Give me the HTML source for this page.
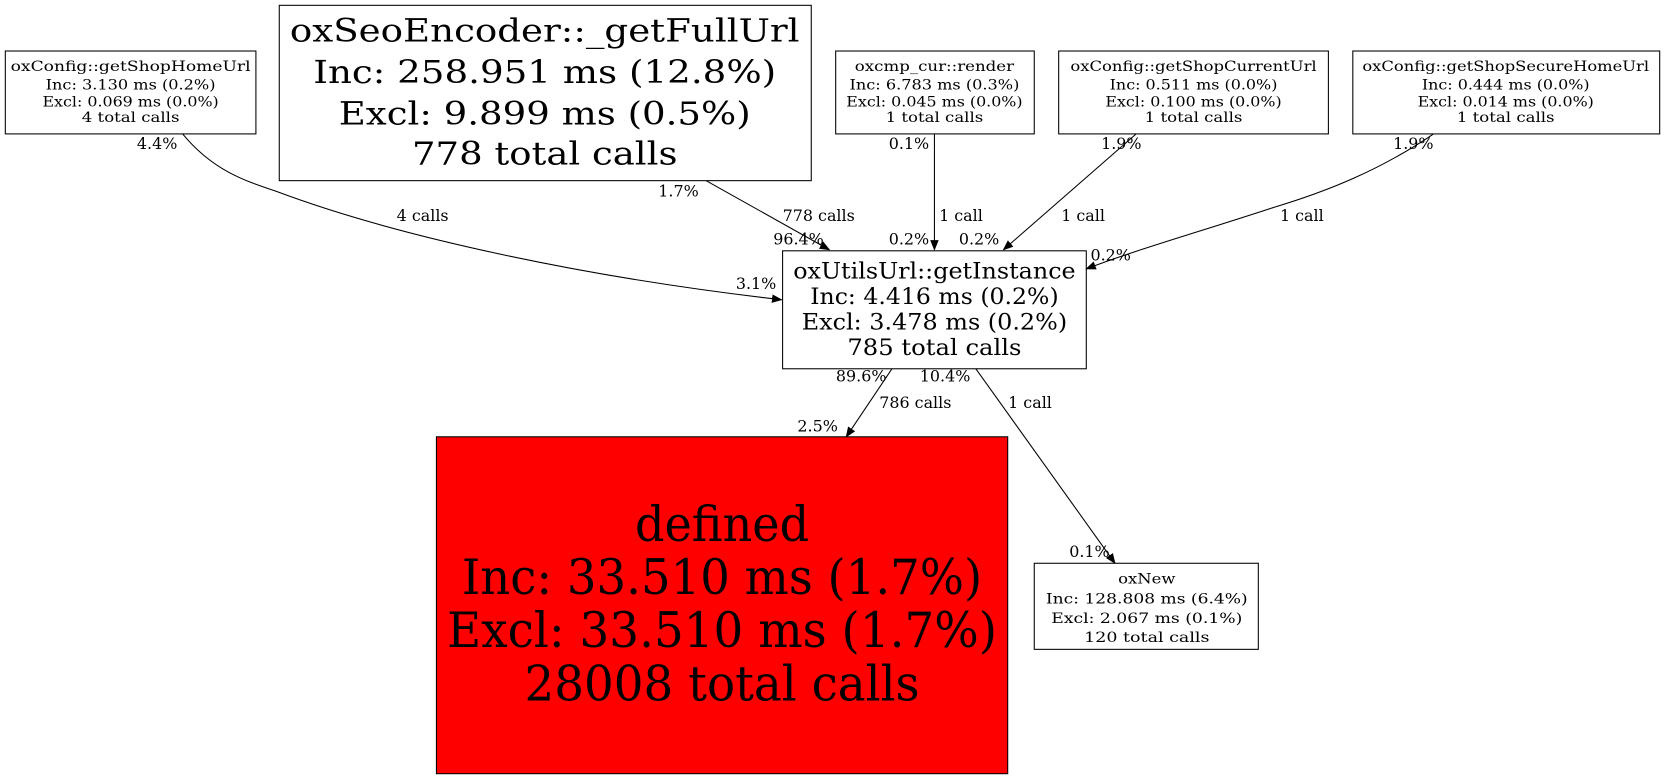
<!DOCTYPE html>
<html><head><meta charset="utf-8"><style>
html,body{margin:0;padding:0;background:#fff;}
svg{display:block;}
text{font-family:"DejaVu Serif","Liberation Serif",serif;fill:#000;text-anchor:middle;}
.e{font-size:15px;}
.s{font-size:13px;}
</style></head><body>
<svg width="1665" height="779" viewBox="0 0 1568 733" preserveAspectRatio="none" xmlns="http://www.w3.org/2000/svg">
<defs><marker id="a" markerWidth="10" markerHeight="8" refX="9" refY="4" orient="auto" markerUnits="userSpaceOnUse"><path d="M0,0L10,4L0,8z" fill="#000"/></marker></defs>
<g fill="#fff" stroke="#000" stroke-width="1">
<rect x="5" y="48" width="236" height="78"/>
<rect x="263" y="5" width="501" height="165"/>
<rect x="787" y="48" width="187" height="78"/>
<rect x="997" y="48" width="254" height="78"/>
<rect x="1274" y="48" width="289" height="78"/>
<rect x="737" y="236" width="286" height="111"/>
<rect x="411" y="411" width="538" height="317" fill="#ff0000"/>
<rect x="974" y="530" width="211" height="81"/>
</g>
<g fill="none" stroke="#000" stroke-width="1" marker-end="url(#a)">
<path d="M172,126 C200,160 230,170 260,180 C380,225 560,262 736,282"/>
<path d="M665,170 L781,235"/>
<path d="M880,126 L880,235"/>
<path d="M1070,126 L945,235"/>
<path d="M1350,126 C1300,160 1250,180 1200,195 C1130,218 1070,235 1023,253"/>
<path d="M840,347 L797,411"/>
<path d="M919,347 L1050,530"/>
</g>
<g lengthAdjust="spacingAndGlyphs">
<text class="s" x="123" y="67" textLength="226" lengthAdjust="spacingAndGlyphs">oxConfig::getShopHomeUrl</text>
<text class="s" x="123" y="84" textLength="160" lengthAdjust="spacingAndGlyphs">Inc: 3.130 ms (0.2%)</text>
<text class="s" x="123" y="100" textLength="166" lengthAdjust="spacingAndGlyphs">Excl: 0.069 ms (0.0%)</text>
<text class="s" x="123" y="115" textLength="92" lengthAdjust="spacingAndGlyphs">4 total calls</text>
<g style="font-size:30px">
<text x="513" y="39" textLength="480" lengthAdjust="spacingAndGlyphs">oxSeoEncoder::_getFullUrl</text>
<text x="513" y="78" textLength="436" lengthAdjust="spacingAndGlyphs">Inc: 258.951 ms (12.8%)</text>
<text x="513" y="117" textLength="388" lengthAdjust="spacingAndGlyphs">Excl: 9.899 ms (0.5%)</text>
<text x="513" y="155" textLength="250" lengthAdjust="spacingAndGlyphs">778 total calls</text>
</g>
<text class="s" x="880" y="67" textLength="150" lengthAdjust="spacingAndGlyphs">oxcmp_cur::render</text>
<text class="s" x="880" y="84" textLength="160" lengthAdjust="spacingAndGlyphs">Inc: 6.783 ms (0.3%)</text>
<text class="s" x="880" y="100" textLength="166" lengthAdjust="spacingAndGlyphs">Excl: 0.045 ms (0.0%)</text>
<text class="s" x="880" y="115" textLength="92" lengthAdjust="spacingAndGlyphs">1 total calls</text>
<text class="s" x="1124" y="67" textLength="232" lengthAdjust="spacingAndGlyphs">oxConfig::getShopCurrentUrl</text>
<text class="s" x="1124" y="84" textLength="158" lengthAdjust="spacingAndGlyphs">Inc: 0.511 ms (0.0%)</text>
<text class="s" x="1124" y="100" textLength="166" lengthAdjust="spacingAndGlyphs">Excl: 0.100 ms (0.0%)</text>
<text class="s" x="1124" y="115" textLength="92" lengthAdjust="spacingAndGlyphs">1 total calls</text>
<text class="s" x="1418" y="67" textLength="270" lengthAdjust="spacingAndGlyphs">oxConfig::getShopSecureHomeUrl</text>
<text class="s" x="1418" y="84" textLength="158" lengthAdjust="spacingAndGlyphs">Inc: 0.444 ms (0.0%)</text>
<text class="s" x="1418" y="100" textLength="166" lengthAdjust="spacingAndGlyphs">Excl: 0.014 ms (0.0%)</text>
<text class="s" x="1418" y="115" textLength="92" lengthAdjust="spacingAndGlyphs">1 total calls</text>
<g style="font-size:21px">
<text x="880" y="262" textLength="266" lengthAdjust="spacingAndGlyphs">oxUtilsUrl::getInstance</text>
<text x="880" y="286" textLength="234" lengthAdjust="spacingAndGlyphs">Inc: 4.416 ms (0.2%)</text>
<text x="880" y="310" textLength="250" lengthAdjust="spacingAndGlyphs">Excl: 3.478 ms (0.2%)</text>
<text x="880" y="334" textLength="164" lengthAdjust="spacingAndGlyphs">785 total calls</text>
</g>
<g style="font-size:46px">
<text x="680" y="509" textLength="164" lengthAdjust="spacingAndGlyphs">defined</text>
<text x="680" y="559" textLength="490" lengthAdjust="spacingAndGlyphs">Inc: 33.510 ms (1.7%)</text>
<text x="680" y="609" textLength="518" lengthAdjust="spacingAndGlyphs">Excl: 33.510 ms (1.7%)</text>
<text x="680" y="659" textLength="372" lengthAdjust="spacingAndGlyphs">28008 total calls</text>
</g>
<text class="s" x="1080" y="549" textLength="54" lengthAdjust="spacingAndGlyphs">oxNew</text>
<text class="s" x="1080" y="568" textLength="190" lengthAdjust="spacingAndGlyphs">Inc: 128.808 ms (6.4%)</text>
<text class="s" x="1080" y="586" textLength="180" lengthAdjust="spacingAndGlyphs">Excl: 2.067 ms (0.1%)</text>
<text class="s" x="1080" y="604" textLength="118" lengthAdjust="spacingAndGlyphs">120 total calls</text>
</g>
<g class="e">
<text x="398" y="208">4 calls</text><text x="148" y="140">4.4%</text><text x="712" y="272">3.1%</text>
<text x="771" y="208">778 calls</text><text x="639" y="185">1.7%</text><text x="752" y="230">96.4%</text>
<text x="905" y="208">1 call</text><text x="856" y="140">0.1%</text><text x="856" y="230">0.2%</text>
<text x="1020" y="208">1 call</text><text x="1056" y="140">1.9%</text><text x="922" y="230">0.2%</text>
<text x="1226" y="208">1 call</text><text x="1331" y="140">1.9%</text><text x="1046" y="245">0.2%</text>
<text x="862" y="384">786 calls</text><text x="811" y="359">89.6%</text><text x="770" y="406">2.5%</text>
<text x="970" y="384">1 call</text><text x="890" y="359">10.4%</text><text x="1026" y="524">0.1%</text>
</g>
</svg>
</body></html>
